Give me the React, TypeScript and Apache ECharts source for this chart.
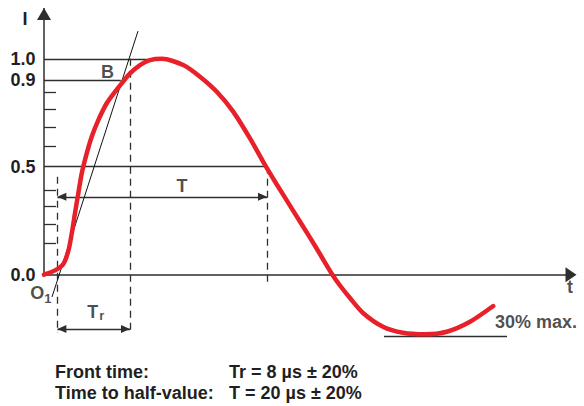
import React, { useEffect, useRef } from "react";
import * as echarts from "echarts";

// Impulse current waveform (normalised current vs time, arbitrary time units)
const curveX = [0, 2.75, 4.83, 6.08, 6.93, 7.75, 8.58, 9.43, 10.68, 11.93, 13.58, 15.68, 17.75, 19.43, 21.5, 24, 26.5, 29.5, 34.8, 39, 43.2, 47.3, 51.5, 54.8, 58.2, 62, 66.5, 69.2, 71.9, 74, 76.5, 79.75, 84.75, 89.75, 95.25, 100.7, 106.5, 112.3];
const curveY = [0, 0.02, 0.05, 0.11, 0.19, 0.285, 0.377, 0.469, 0.562, 0.639, 0.716, 0.794, 0.847, 0.886, 0.932, 0.971, 0.994, 1.0, 0.971, 0.917, 0.847, 0.755, 0.631, 0.523, 0.418, 0.305, 0.172, 0.089, 0.006, -0.05, -0.108, -0.177, -0.241, -0.269, -0.276, -0.264, -0.218, -0.145];

const yLabelValues = [0, 0.5, 0.9, 1.0];
const yTickValues = [0.145, 0.235, 0.318, 0.392, 0.596, 0.685, 0.767, 0.847];

// key times / levels of the construction
const o1X = 3.35;
const trEndX = 21.5;
const peakX = 29;
const x90 = 19.2;
const halfX = 55.75;
const dashLowY = -0.27;
const o1DashTopY = 0.454;
const halfDashLowY = -0.034;
const tArrowY = 0.361;
const trArrowY = -0.251;
const tangentFrom = [2, -0.103];
const tangentTo = [23.5, 1.128];
const troughLevel = -0.287;
const troughFromX = 85;
const troughToX = 115.75;
const axisNameAt = [-4.75, 1.183];

const captionLabels = ["Front time:", "Time to half-value:"];
const captionValues = ["Tr = 8 µs ± 20%", "T = 20 µs ± 20%"];

const X_MIN = 0;
const X_MAX = 131.75;
const Y_MIN = -0.33;
const Y_MAX = 1.235;

const INK = "#2e2e2e";
const TXT = "#1f1f1f";
const RED = "#e8202a";
const FONT = "Liberation Sans";

export default function App() {
  const ref = useRef<HTMLDivElement>(null);

  useEffect(() => {
    document.body.style.margin = "0";
    const chart = echarts.init(ref.current!, null, { renderer: "svg" });

    const solid = { color: INK, width: 1.3, type: "solid" as const };
    const axisStyle = { color: INK, width: 1.5, type: "solid" as const };
    const thin = { color: "#111", width: 1, type: "solid" as const };
    const dashed = { color: INK, width: 1.3, type: [7, 5] as any };
    const arrowEnd = { symbol: "triangle", symbolSize: [8, 9], symbolOffset: [0, "50%"] };
    const textStyle = { fill: TXT, fontFamily: FONT, fontWeight: "bold", fontSize: 18, verticalAlign: "middle" };

    const lbl = (extra: any = {}) => ({
      show: true,
      position: "inside",
      color: TXT,
      fontFamily: FONT,
      fontWeight: "bold",
      fontSize: 18,
      formatter: (p: any) => p.name,
      ...extra,
    });

    const captions = [
      { type: "text", x: 55, y: 372.2, style: { text: captionLabels[0], ...textStyle } },
      { type: "text", x: 229, y: 372.2, style: { text: captionValues[0], ...textStyle } },
      { type: "text", x: 55, y: 393.3, style: { text: captionLabels[1], ...textStyle } },
      { type: "text", x: 229, y: 393.3, style: { text: captionValues[1], ...textStyle } },
    ];

    const option: any = {
      animation: false,
      textStyle: { fontFamily: FONT },
      grid: { left: 44, right: 13, top: 8, bottom: 60, containLabel: false },
      xAxis: {
        type: "value",
        min: X_MIN,
        max: X_MAX,
        axisLine: {
          onZero: true,
          lineStyle: axisStyle,
          symbol: ["none", "triangle"],
          symbolSize: [15, 11],
        },
        axisTick: { show: false },
        axisLabel: { show: false },
        splitLine: { show: false },
      },
      yAxis: {
        type: "value",
        min: Y_MIN,
        max: Y_MAX,
        axisLine: { show: false },
        axisTick: {
          show: true,
          inside: true,
          length: 12,
          customValues: yTickValues,
          lineStyle: { color: INK, width: 1.3 },
        },
        axisLabel: {
          customValues: yLabelValues,
          formatter: (v: number) => v.toFixed(1),
          color: TXT,
          fontFamily: FONT,
          fontWeight: "bold",
          fontSize: 18,
          margin: 8.5,
        },
        splitLine: { show: false },
      },
      series: [
        {
          type: "line",
          name: "guides",
          data: [],
          silent: true,
          z: 1,
          markLine: {
            silent: true,
            z: 1,
            animation: false,
            symbol: ["none", "none"],
            symbolSize: [8, 9],
            lineStyle: solid,
            label: { show: false },
            emphasis: { disabled: true },
            data: [
              // vertical axis with arrow
              [
                { coord: [0, 0], lineStyle: axisStyle },
                { coord: [0, Y_MAX], symbol: "triangle", symbolSize: [14, 12], symbolOffset: [0, "50%"] },
              ],
              [{ coord: [0, 1.0], lineStyle: solid }, { coord: [peakX, 1.0] }],
              [{ coord: [0, 0.9], lineStyle: solid }, { coord: [x90, 0.9] }],
              [{ coord: [0, 0.5], lineStyle: solid }, { coord: [halfX, 0.5] }],
              [{ coord: [o1X, o1DashTopY], lineStyle: dashed }, { coord: [o1X, dashLowY] }],
              [{ coord: [trEndX, 1.0], lineStyle: dashed }, { coord: [trEndX, dashLowY] }],
              [{ coord: [halfX, 0.5], lineStyle: dashed }, { coord: [halfX, halfDashLowY] }],
              [{ coord: tangentFrom, lineStyle: thin }, { coord: tangentTo }],
              [
                { coord: [o1X, tArrowY], lineStyle: solid, ...arrowEnd },
                { coord: [halfX, tArrowY], ...arrowEnd },
              ],
              [
                { coord: [o1X, trArrowY], lineStyle: solid, ...arrowEnd },
                { coord: [trEndX, trArrowY], ...arrowEnd },
              ],
              [{ coord: [troughFromX, troughLevel], lineStyle: solid }, { coord: [troughToX, troughLevel] }],
            ],
          },
        },
        {
          type: "line",
          name: "I",
          z: 3,
          data: curveX.map((x, i) => [x, curveY[i]]),
          smooth: 0.25,
          symbol: "none",
          lineStyle: { color: RED, width: 4.5, cap: "round" },
        },
        {
          type: "scatter",
          name: "labels",
          z: 4,
          clip: false,
          symbolSize: 1,
          silent: true,
          itemStyle: { color: "rgba(0,0,0,0)" },
          label: lbl(),
          data: [
            { name: "B", value: [15.9, 0.938] },
            { name: "T", value: [34.5, 0.413] },
            { name: "t", value: [131.5, -0.059] },
            { name: "30% max.", value: [112.75, -0.218], label: lbl({ align: "left" }) },
            {
              name: "Tr",
              value: [12.95, -0.174],
              label: lbl({
                formatter: "{a|T}{b|r}",
                rich: {
                  a: { fontSize: 18, fontWeight: "bold", fontFamily: FONT, color: TXT },
                  b: { fontSize: 13, fontWeight: "bold", fontFamily: FONT, color: TXT, padding: [7, 0, 0, 1] },
                },
              }),
            },
            {
              name: "O1",
              value: [-0.8, -0.085],
              label: lbl({
                formatter: "{a|O}{b|1}",
                rich: {
                  a: { fontSize: 18, fontWeight: "bold", fontFamily: FONT, color: TXT },
                  b: { fontSize: 13, fontWeight: "bold", fontFamily: FONT, color: TXT, padding: [10, 0, 0, 0] },
                },
              }),
            },
          ],
        },
      ],
      graphic: captions,
    };

    chart.setOption(option);
    const [ix, iy] = chart.convertToPixel({ gridIndex: 0 }, axisNameAt) as number[];
    chart.setOption({
      graphic: [
        ...captions,
        { type: "text", x: ix, y: iy, style: { text: "I", ...textStyle, align: "center" } },
      ],
    });
    return () => chart.dispose();
  }, []);

  return <div ref={ref} style={{ width: 584, height: 406 }} />;
}
